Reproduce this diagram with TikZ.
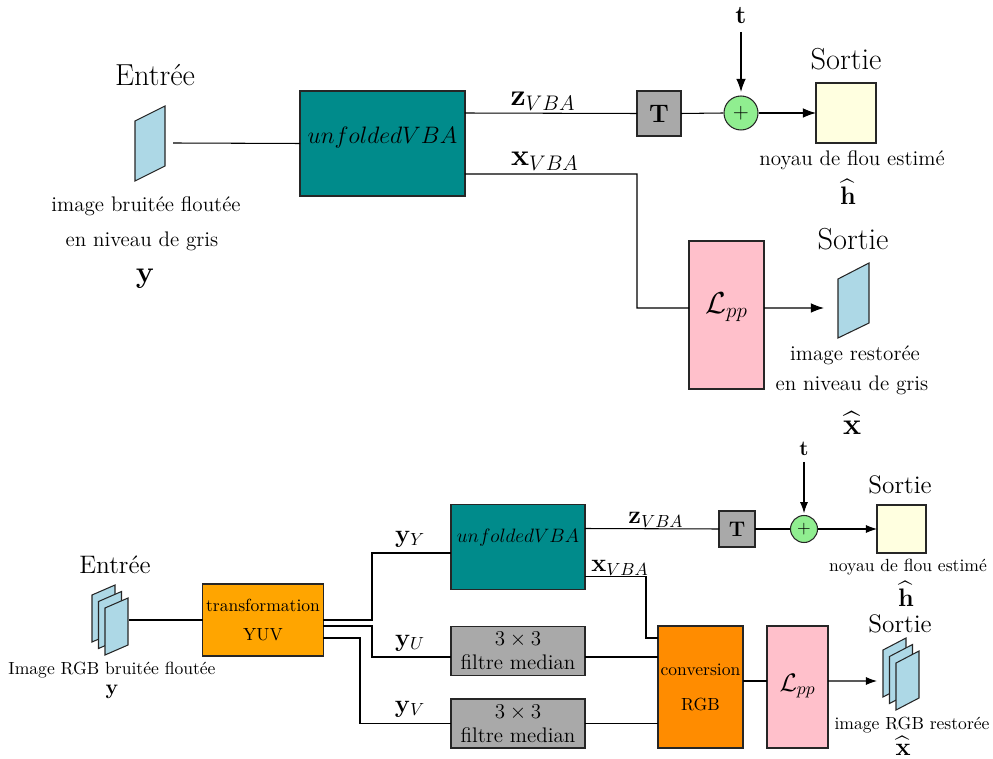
\documentclass[tikz,border=0pt]{standalone}
\usepackage{amsmath,amssymb}
\usetikzlibrary{arrows.meta,calc}
\definecolor{cteal}{HTML}{008B8B}
\definecolor{cgray}{HTML}{A9A9A9}
\definecolor{cgreen}{HTML}{90EE90}
\definecolor{cyellow}{HTML}{FFFFE0}
\definecolor{cpink}{HTML}{FFC0CB}
\definecolor{cblue}{HTML}{ADD8E6}
\definecolor{corange}{HTML}{FFA500}
\definecolor{cdorange}{HTML}{FF8C00}
\begin{document}
\begin{tikzpicture}[x=0.02cm,y=-0.02cm,line width=0.6pt,
  box/.style={draw=black!85,inner sep=0pt,outer sep=0pt},
  arrA/.style={-{Latex[length=7.5pt,width=5.5pt]}},
  arrB/.style={-{Latex[length=6.3pt,width=4.6pt]}},
  txt/.style={inner sep=0pt},
  bigf/.style={font=\LARGE},
  midf/.style={font=\Large},
  img/.style={draw=black!85,fill=cblue,line width=0.6pt}]
\useasboundingbox (0,0) rectangle (993,759);

% ================= TOP =================
\node[txt,bigf] (entA) at (155,75) {Entrée};
\draw[img] (135,121) -- (165,106) -- (165,166) -- (135,181) -- cycle;
\coordinate (inA) at (173,143);
\node[txt,font=\large] (inAt1) at (146,206) {image bruitée floutée};
\node[txt,font=\large] (inAt2) at (142,241) {en niveau de gris};
\node[txt,font=\LARGE] (inAy) at (145,279) {$\mathbf{y}$};

\node[box,fill=cteal,minimum width=3.3cm,minimum height=2.1cm,
  label={[font=\Large,yshift=0.12cm,scale=0.94]center:$unfoldedVBA$}] (unfA) at (382.5,143.5) {};
\draw (inA) -- (unfA.west);

\node[box,fill=cgray,minimum width=0.88cm,minimum height=0.9cm,font=\Large] (TA) at (659,113.5) {$\mathbf{T}$};
\node[draw=black!85,circle,fill=cgreen,minimum size=0.68cm,inner sep=0pt,font=\large] (plA) at (741,113) {$+$};
\node[txt,font=\Large] (tA) at (741,15) {$\mathbf{t}$};
\node[box,fill=cyellow,minimum width=1.2cm,minimum height=1.2cm] (hA) at (846,113) {};
\node[txt,bigf] (sA1) at (846,59) {Sortie};
\node[txt,font=\large] (nA) at (852,160) {noyau de flou estimé};
\node[txt,font=\Large] (hhA) at (848,192) {$\widehat{\mathbf{h}}$};

\draw ([yshift=0.61cm]unfA.east) -- (TA.west);
\node[txt,font=\LARGE] (zA) at (543,101) {$\mathbf{z}_{VBA}$};
\draw (TA.east) -- (plA.west);
\coordinate (tAs) at (741,32);
\draw[arrA] (tAs) -- ([yshift=2pt]plA.north);
\draw[arrA] (plA.east) -- (hA.west);

\node[box,fill=cpink,minimum width=1.5cm,minimum height=2.96cm,
  label={[font=\LARGE,yshift=0.16cm]center:$\mathcal{L}_{pp}$}] (LA) at (726.5,315) {};
\coordinate (xvA) at (637,308);
\draw ([yshift=-0.61cm]unfA.east) -| (xvA) -- ([yshift=0.14cm]LA.west);
\node[txt,font=\LARGE] (xA) at (545,161) {$\mathbf{x}_{VBA}$};
\coordinate (outA) at (824,308);
\draw[arrA] ([yshift=0.14cm]LA.east) -- (outA);
\draw[img] (838,279) -- (869,263) -- (869,323) -- (838,338) -- cycle;
\node[txt,bigf] (sA2) at (853,239) {Sortie};
\node[txt,font=\large] (oA1) at (855,355) {image restorée};
\node[txt,font=\large] (oA2) at (852,385) {en niveau de gris};
\node[txt,font=\LARGE] (xhA) at (852,423) {$\widehat{\mathbf{x}}$};

% ================= BOTTOM =================
\node[txt,midf] (entB) at (115,565) {Entrée};
\foreach \d in {0,6.5,13}{
  \draw[img] (92+\d,595+\d) -- (115+\d,585+\d) -- (115+\d,632+\d) -- (92+\d,642+\d) -- cycle;
}
\coordinate (inB) at (129,620);
\node[txt] (inBt) at (112,670) {Image RGB bruitée floutée};
\node[txt,font=\large] (inBy) at (112,692) {$\mathbf{y}$};

\node[box,fill=corange,minimum width=2.42cm,minimum height=1.44cm,align=center,
  font=\fontsize{10}{17}\selectfont] (trB) at (263,620) {transformation\\YUV};
\draw (inB) -- (trB.west);

\node[box,fill=cteal,minimum width=2.68cm,minimum height=1.7cm,
  label={[font=\large,yshift=0.18cm,scale=0.92]center:$unfoldedVBA$}] (unfB) at (518,547) {};
\node[box,fill=cgray,minimum width=2.68cm,minimum height=0.98cm,align=center,
  font=\fontsize{12}{13.7}\selectfont] (m1) at (518,651) {$3\times 3$\\filtre median};
\node[box,fill=cgray,minimum width=2.68cm,minimum height=0.98cm,align=center,
  font=\fontsize{12}{13.7}\selectfont] (m2) at (518,723.5) {$3\times 3$\\filtre median};

\coordinate (yYv) at (372,553);
\coordinate (yUv) at (372,657);
\coordinate (yVv) at (360,723.5);
\draw (trB.east) -| (yYv) -- (yYv -| unfB.west);
\draw ([yshift=-0.12cm]trB.east) -| (yUv) -- (yUv -| m1.west);
\draw ([yshift=-0.36cm]trB.east) -| (yVv) -- (m2.west);
\node[txt,font=\Large] (lyY) at (410,539) {$\mathbf{y}_Y$};
\node[txt,font=\Large] (lyU) at (410,643) {$\mathbf{y}_U$};
\node[txt,font=\Large] (lyV) at (410,709) {$\mathbf{y}_V$};

\node[box,fill=cgray,minimum width=0.72cm,minimum height=0.72cm,font=\large] (TB) at (737,529) {$\mathbf{T}$};
\node[draw=black!85,circle,fill=cgreen,minimum size=0.54cm,inner sep=0pt] (plB) at (804,529) {$+$};
\node[txt,font=\large] (tB) at (804,449) {$\mathbf{t}$};
\node[box,fill=cyellow,minimum width=0.98cm,minimum height=0.96cm] (hB) at (901.5,529) {};
\node[txt,midf] (sB1) at (900,485) {Sortie};
\node[txt] (nB) at (908,567) {noyau de flou estimé};
\node[txt,font=\Large] (hhB) at (906,594) {$\widehat{\mathbf{h}}$};

\draw ([yshift=0.37cm]unfB.east) -- (TB.west);
\node[txt,font=\Large] (zB) at (656,520) {$\mathbf{z}_{VBA}$};
\draw (TB.east) -- (plB.west);
\coordinate (tBs) at (804,462);
\draw[arrB] (tBs) -- ([yshift=1pt]plB.north);
\draw[arrB] (plB.east) -- (hB.west);

\node[box,fill=cdorange,minimum width=1.7cm,minimum height=2.44cm,align=center,
  font=\fontsize{10}{20}\selectfont] (cvB) at (700.5,687) {conversion\\RGB};
\coordinate (xvB) at (646,638);
\draw ([yshift=-0.59cm]unfB.east) -| (xvB) -- (xvB -| cvB.west);
\node[txt,font=\Large] (xB) at (620,568) {$\mathbf{x}_{VBA}$};
\coordinate (m1o) at ([yshift=-0.12cm]m1.east);
\draw (m1o) -- (m1o -| cvB.west);
\draw (m2.east) -- (m2.east -| cvB.west);

\node[box,fill=cpink,minimum width=1.22cm,minimum height=2.44cm,
  label={[font=\Large,yshift=0.02cm]center:$\mathcal{L}_{pp}$}] (LB) at (797.5,687) {};
\draw ([yshift=0.12cm]cvB.east) -- ([yshift=0.12cm]LB.west);
\coordinate (outB) at (877,681);
\draw[arrB] ([yshift=0.12cm]LB.east) -- (outB);
\foreach \d in {0,6.5,13}{
  \draw[img] (883+\d,650+\d) -- (906+\d,638+\d) -- (906+\d,685+\d) -- (883+\d,697+\d) -- cycle;
}
\node[txt,midf] (sB2) at (900,624) {Sortie};
\node[txt] (oB) at (912,725) {image RGB restorée};
\node[txt,font=\Large] (xhB) at (903,746) {$\widehat{\mathbf{x}}$};
\end{tikzpicture}
\end{document}
